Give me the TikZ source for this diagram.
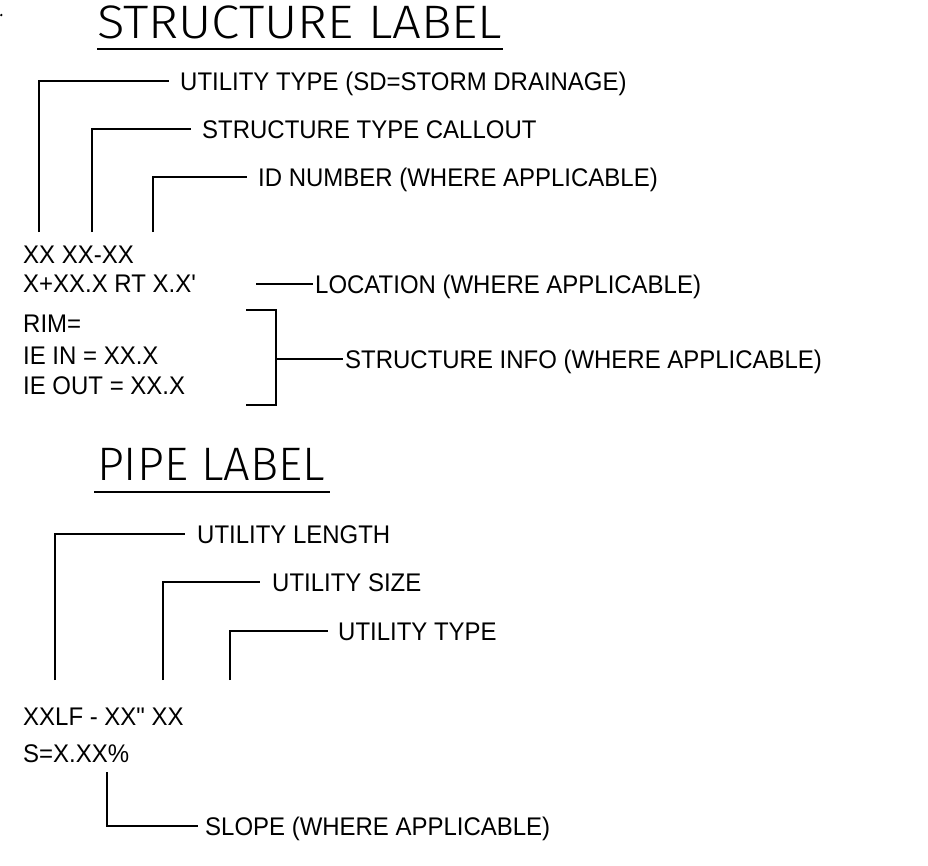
\documentclass[tikz,border=0pt]{standalone}
\usepackage{fontspec}
\newfontfamily\lblfont{Liberation Sans}[FakeStretch=0.94]
\newfontfamily\titlefont{Fira Sans Light}
\begin{document}
\begin{tikzpicture}[x=1pt,y=-1pt,
  lbl/.style={anchor=base west,inner sep=0pt,font=\lblfont\fontsize{25.5}{25.5}\selectfont},
  ttl/.style={anchor=base west,inner sep=0pt,font=\titlefont\fontsize{47}{47}\selectfont},
  ldr/.style={line width=2pt,line cap=butt,line join=miter},
  uline/.style={line width=2.2pt}]
\useasboundingbox (0,0) rectangle (928,865);
\fill (1.3,15) circle (1.3pt);
% ---------- STRUCTURE LABEL ----------
\node[ttl] (t1) at (97,38) {\scalebox{1.085}[1]{STRUCTURE LABEL}};
\coordinate (u1a) at (97,49);
\coordinate (u1b) at (503,49);
\draw[uline] (u1a) -- (u1b);

\node[lbl] (ut) at (180,90) {UTILITY TYPE (SD=STORM DRAINAGE)};
\node[lbl] (stc) at (202,138) {STRUCTURE TYPE CALLOUT};
\node[lbl] (idn) at (258,186) {ID NUMBER (WHERE APPLICABLE)};

\node[lbl] (s1) at (23,263) {XX XX-XX};
\node[lbl] (s2) at (23,292) {X+XX.X RT X.X'};
\node[lbl] (s3) at (23,332) {RIM=};
\node[lbl] (s4) at (23,364) {IE IN = XX.X};
\node[lbl] (s5) at (23,394) {IE OUT = XX.X};

\node[lbl] (loc) at (315,293) {LOCATION (WHERE APPLICABLE)};
\node[lbl] (sin) at (345,368) {STRUCTURE INFO (WHERE APPLICABLE)};

\coordinate (a1) at (39,232);
\coordinate (a2) at (92,232);
\coordinate (a3) at (153,232);
\draw[ldr] (a1) |- ([xshift=-11pt,yshift=9pt]ut.base west);
\draw[ldr] (a2) |- ([xshift=-11pt,yshift=9pt]stc.base west);
\draw[ldr] (a3) |- ([xshift=-11pt,yshift=9pt]idn.base west);

\coordinate (lc) at (256,284);
\draw[ldr] (lc) -- ([xshift=-2pt,yshift=9pt]loc.base west);

\coordinate (b1) at (246,310);
\coordinate (b2) at (246,405);
\draw[ldr] (b1) -| (276,310) -- (276,405) -- (b2);
\coordinate (bm) at (276,359);
\draw[ldr] (bm) -- ([xshift=-2pt,yshift=9pt]sin.base west);

% ---------- PIPE LABEL ----------
\node[ttl] (t2) at (97,480) {PIPE LABEL};
\coordinate (u2a) at (94,492);
\coordinate (u2b) at (330,492);
\draw[uline] (u2a) -- (u2b);

\node[lbl] (ul) at (197,543) {UTILITY LENGTH};
\node[lbl] (us) at (272,591) {UTILITY SIZE};
\node[lbl] (uty) at (338,640) {UTILITY TYPE};

\node[lbl] (p1) at (23,725) {XXLF - XX" XX};
\node[lbl] (p2) at (23,762) {S=X.XX\%};

\coordinate (c1) at (55,680);
\coordinate (c2) at (163,680);
\coordinate (c3) at (230,680);
\draw[ldr] (c1) |- ([xshift=-12pt,yshift=9pt]ul.base west);
\draw[ldr] (c2) |- ([xshift=-12pt,yshift=9pt]us.base west);
\draw[ldr] (c3) |- ([xshift=-10pt,yshift=9pt]uty.base west);

\node[lbl] (sl) at (205,835) {SLOPE (WHERE APPLICABLE)};
\coordinate (d1) at (107,772);
\draw[ldr] (d1) |- ([xshift=-7pt,yshift=9pt]sl.base west);
\end{tikzpicture}
\end{document}
